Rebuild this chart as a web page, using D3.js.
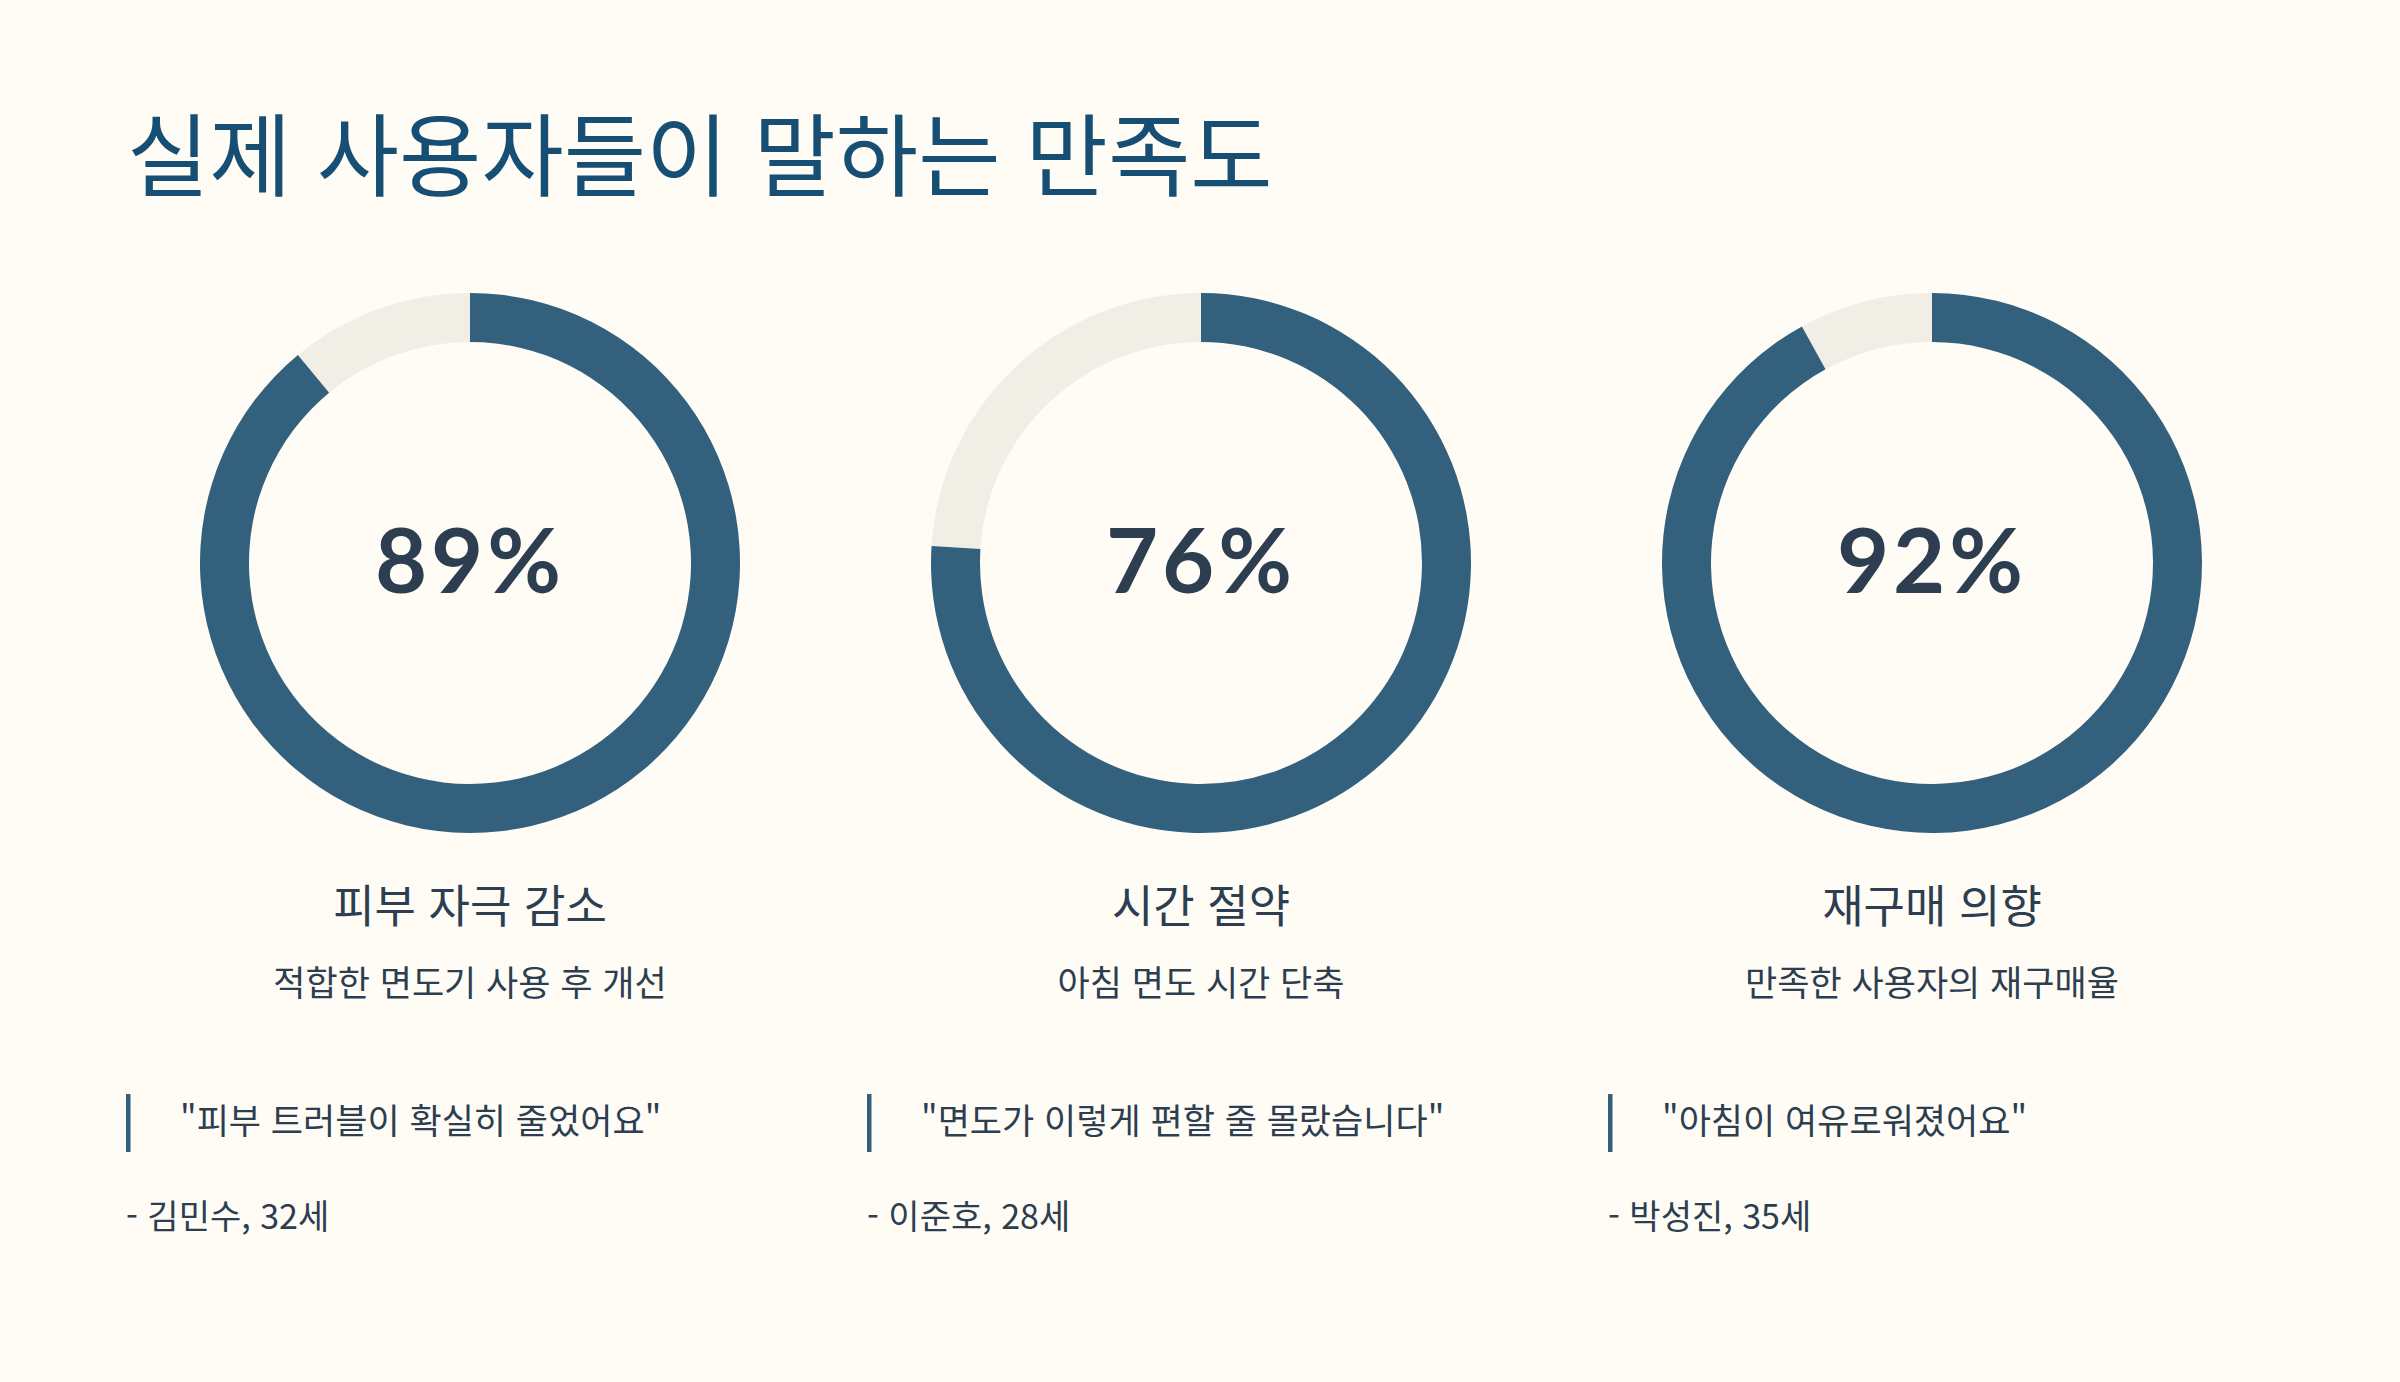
<!DOCTYPE html>
<html lang="ko">
<head>
<meta charset="utf-8">
<title>실제 사용자들이 말하는 만족도</title>
<script src="https://cdn.jsdelivr.net/npm/d3@7/dist/d3.min.js"></script>
<style>
  html, body { margin: 0; padding: 0; background: #fefcf5; }
  svg { display: block; }
</style>
</head>
<body>
<div id="chart"></div>
<script>
// chart values
var title = "실제 사용자들이 말하는 만족도";
var categories = ["피부 자극 감소", "시간 절약", "재구매 의향"];
var percentValues = [89, 76, 92];
var descriptions = ["적합한 면도기 사용 후 개선", "아침 면도 시간 단축", "만족한 사용자의 재구매율"];
var quotes = ["\"피부 트러블이 확실히 줄었어요\"", "\"면도가 이렇게 편할 줄 몰랐습니다\"", "\"아침이 여유로워졌어요\""];
var authors = ["- 김민수, 32세", "- 이준호, 28세", "- 박성진, 35세"];

var width = 2400, height = 1382;
var ringColor = "#33607d", trackColor = "#f1eee5", textColor = "#2c3e50", titleColor = "#174e73";
var outerR = 270, innerR = 221;
var krFont = "'Noto Sans CJK KR', 'Noto Sans', sans-serif";

var svg = d3.select("#chart").append("svg")
    .attr("width", width)
    .attr("height", height);

svg.append("rect")
    .attr("width", width)
    .attr("height", height)
    .attr("fill", "#fefcf5");

svg.append("text")
    .attr("x", 127)
    .attr("y", 189)
    .attr("font-family", krFont)
    .attr("font-size", 89.5)
    .attr("font-weight", 400)
    .attr("fill", titleColor)
    .text(title);

// donut centres and quote columns
var xCenter = d3.scalePoint().domain(categories).range([470, 1932]);
var xColumn = d3.scalePoint().domain(categories).range([126, 1608]);
var angle = d3.scaleLinear().domain([0, 100]).range([0, 2 * Math.PI]);

var arc = d3.arc().innerRadius(innerR).outerRadius(outerR);

var cards = svg.selectAll(".card")
    .data(categories)
    .enter().append("g")
    .attr("class", "card");

var donut = cards.append("g")
    .attr("transform", function(d) { return "translate(" + xCenter(d) + ",563)"; });

// track (remaining part)
donut.append("path")
    .attr("fill", trackColor)
    .attr("d", function(d, i) {
        return arc({ startAngle: angle(percentValues[i]), endAngle: angle(100) });
    });

// value arc
donut.append("path")
    .attr("fill", ringColor)
    .attr("d", function(d, i) {
        return arc({ startAngle: angle(0), endAngle: angle(percentValues[i]) });
    });

donut.append("text")
    .attr("text-anchor", "middle")
    .attr("y", 30)
    .attr("font-family", "Lato, 'Noto Sans', sans-serif")
    .attr("font-size", 90)
    .attr("font-weight", 700)
    .attr("letter-spacing", 4)
    .attr("fill", textColor)
    .text(function(d, i) { return percentValues[i] + "%"; });

cards.append("text")
    .attr("x", function(d) { return xCenter(d); })
    .attr("y", 923)
    .attr("text-anchor", "middle")
    .attr("font-family", krFont)
    .attr("font-size", 45)
    .attr("font-weight", 400)
    .attr("fill", textColor)
    .text(function(d) { return d; });

cards.append("text")
    .attr("x", function(d) { return xCenter(d); })
    .attr("y", 996)
    .attr("text-anchor", "middle")
    .attr("font-family", krFont)
    .attr("font-size", 35)
    .attr("font-weight", 400)
    .attr("fill", textColor)
    .text(function(d, i) { return descriptions[i]; });

// quote block
cards.append("rect")
    .attr("x", function(d) { return xColumn(d); })
    .attr("y", 1094)
    .attr("width", 4.5)
    .attr("height", 58)
    .attr("fill", ringColor);

cards.append("text")
    .attr("x", function(d) { return xColumn(d) + 54; })
    .attr("y", 1134)
    .attr("font-family", krFont)
    .attr("font-size", 35)
    .attr("font-weight", 400)
    .attr("fill", textColor)
    .text(function(d, i) { return quotes[i]; });

cards.append("text")
    .attr("x", function(d) { return xColumn(d); })
    .attr("y", 1229)
    .attr("font-family", krFont)
    .attr("font-size", 34)
    .attr("font-weight", 400)
    .attr("fill", textColor)
    .text(function(d, i) { return authors[i]; });
</script>
</body>
</html>
